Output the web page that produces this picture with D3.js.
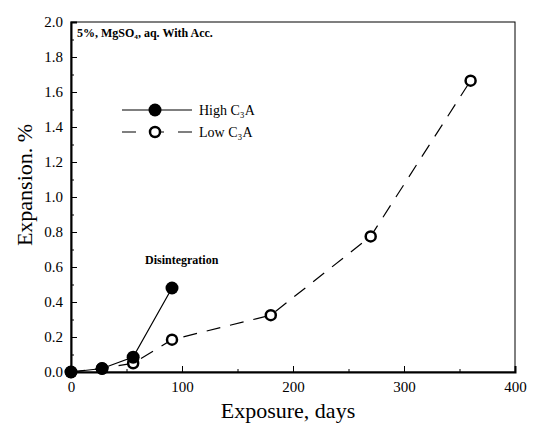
<!DOCTYPE html>
<html>
<head>
<meta charset="utf-8">
<script src="https://cdn.jsdelivr.net/npm/d3@7"></script>
<style>
  body { margin: 0; background: #fff; }
  text { font-family: "Liberation Serif", "Times New Roman", serif; fill: #000; }
</style>
</head>
<body>
<div id="chart-container"></div>
<script>
// data
const highDays = [0, 28, 56, 91];
const highExp = [0, 0.02, 0.085, 0.48];
const lowDays = [0, 28, 56, 91, 180, 270, 360];
const lowExp = [0, 0.02, 0.05, 0.185, 0.325, 0.775, 1.665];
const xTicks = [0, 100, 200, 300, 400];
const yTicks = [0, 0.2, 0.4, 0.6, 0.8, 1.0, 1.2, 1.4, 1.6, 1.8, 2.0];

const margin = { top: 22, right: 22, bottom: 52, left: 71 };
const width = 537 - margin.left - margin.right;
const height = 424 - margin.top - margin.bottom;

const x = d3.scaleLinear().domain([0, 400]).range([0, width]);
const y = d3.scaleLinear().domain([0, 2.0]).range([height, 0]);

const svg = d3.select("#chart-container")
  .append("svg")
    .attr("width", 537)
    .attr("height", 424)
  .append("g")
    .attr("transform", `translate(${margin.left},${margin.top})`);

// frame
svg.append("rect")
  .attr("width", width).attr("height", height)
  .attr("fill", "none").attr("stroke", "#000").attr("stroke-width", 1);

// x axis
const xAxis = svg.append("g")
  .attr("transform", `translate(0,${height})`)
  .call(d3.axisBottom(x).tickValues(xTicks).tickSize(-6).tickPadding(9).tickFormat(d3.format("d")));
xAxis.select(".domain").attr("stroke-width", 2);
xAxis.selectAll("text").style("font-size", "15px");
svg.append("g")
  .attr("transform", `translate(0,${height})`)
  .call(d3.axisBottom(x).tickValues([50, 150, 250, 350]).tickSize(-3).tickFormat(""))
  .select(".domain").remove();

// y axis
const yAxis = svg.append("g")
  .call(d3.axisLeft(y).tickValues(yTicks).tickSize(-6).tickPadding(8).tickFormat(d3.format(".1f")));
yAxis.select(".domain").attr("stroke-width", 2);
yAxis.selectAll("text").style("font-size", "15px");
svg.append("g")
  .call(d3.axisLeft(y).tickValues(d3.range(0.1, 2.0, 0.2)).tickSize(-3).tickFormat(""))
  .select(".domain").remove();

// axis titles
svg.append("text")
  .attr("x", width / 2 - 5).attr("y", height + 46)
  .attr("text-anchor", "middle")
  .style("font-size", "22px")
  .text("Exposure, days");
svg.append("text")
  .attr("transform", `translate(-39,${height / 2 - 12}) rotate(-90)`)
  .attr("text-anchor", "middle")
  .style("font-size", "22px")
  .text("Expansion. %");

// lines
const highData = highDays.map((d, i) => ({ x: d, y: highExp[i] }));
const lowData = lowDays.map((d, i) => ({ x: d, y: lowExp[i] }));
const line = d3.line().x(d => x(d.x)).y(d => y(d.y));

svg.append("path").datum(lowData)
  .attr("fill", "none").attr("stroke", "#000").attr("stroke-width", 1.2)
  .attr("stroke-dasharray", "14,10")
  .attr("d", line);
svg.append("path").datum(highData)
  .attr("fill", "none").attr("stroke", "#000").attr("stroke-width", 1.2)
  .attr("d", line);

svg.selectAll(".low").data(lowData).enter().append("circle")
  .attr("cx", d => x(d.x)).attr("cy", d => y(d.y)).attr("r", 5)
  .attr("fill", "#fff").attr("stroke", "#000").attr("stroke-width", 2.5);
svg.selectAll(".high").data(highData).enter().append("circle")
  .attr("cx", d => x(d.x)).attr("cy", d => y(d.y)).attr("r", 6.5)
  .attr("fill", "#000");

// legend
const lg = svg.append("g").attr("transform", "translate(51,88)");
lg.append("line").attr("x1", 0).attr("x2", 70).attr("y1", 0).attr("y2", 0)
  .attr("stroke", "#000").attr("stroke-width", 1.2);
lg.append("circle").attr("cx", 33).attr("cy", 0).attr("r", 6.5).attr("fill", "#000");
lg.append("text").attr("x", 77).attr("y", 5).style("font-size", "14px").text("High C\u2083A");
lg.append("line").attr("x1", 0).attr("x2", 70).attr("y1", 22).attr("y2", 22)
  .attr("stroke", "#000").attr("stroke-width", 1.2).attr("stroke-dasharray", "14,14");
lg.append("circle").attr("cx", 33).attr("cy", 22).attr("r", 5)
  .attr("fill", "#fff").attr("stroke", "#000").attr("stroke-width", 2.5);
lg.append("text").attr("x", 77).attr("y", 27).style("font-size", "14px").text("Low C\u2083A");

// annotations
svg.append("text").attr("x", 6).attr("y", 15)
  .style("font-size", "12px").style("font-weight", "bold")
  .text("5%, MgSO\u2084, aq. With Acc.");
svg.append("text").attr("x", 74).attr("y", 242)
  .style("font-size", "12px").style("font-weight", "bold")
  .text("Disintegration");
</script>
</body>
</html>
